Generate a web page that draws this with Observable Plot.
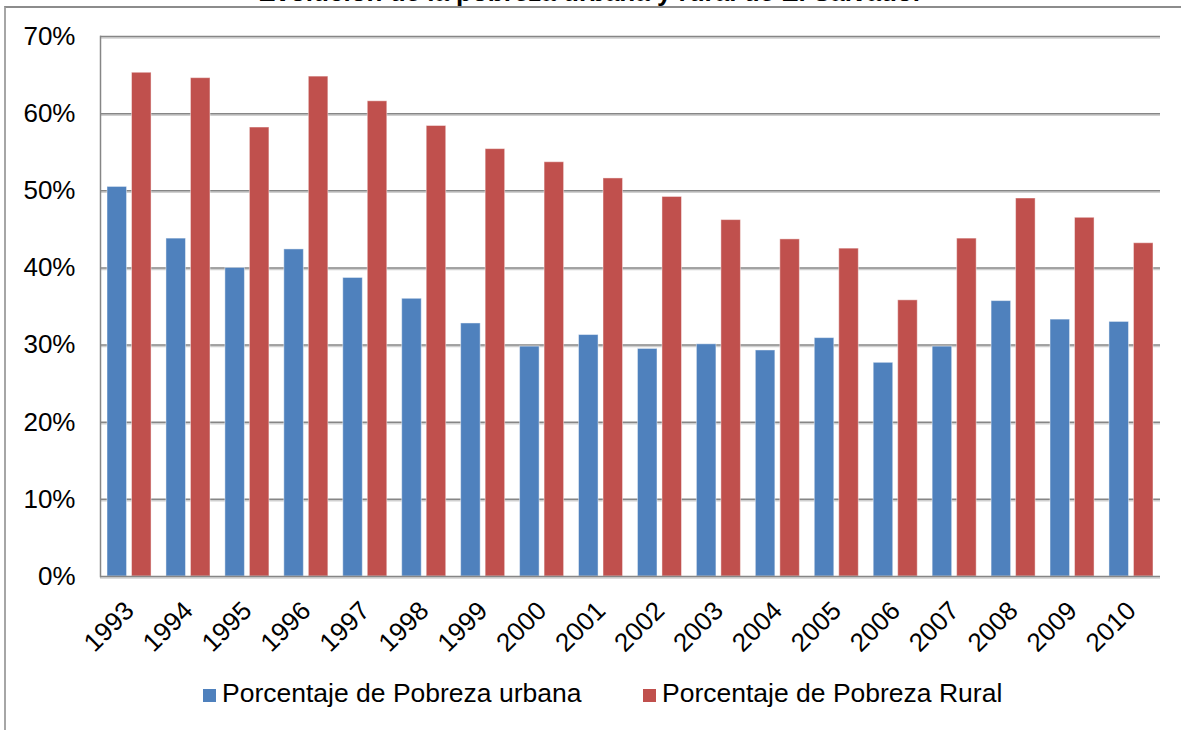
<!DOCTYPE html>
<html>
<head>
<meta charset="utf-8">
<script src="https://cdn.jsdelivr.net/npm/d3@7"></script>
<script src="https://cdn.jsdelivr.net/npm/@observablehq/plot@0.6"></script>
<style>
  html, body { margin: 0; padding: 0; background: #fff; }
  #wrap { position: relative; width: 1181px; height: 730px; overflow: hidden; font-family: "Liberation Sans", Arial, sans-serif; }
  #border { position: absolute; left: 4px; top: 6px; width: 1300px; height: 800px; border-left: 2px solid #a6a6a6; border-top: 2px solid #8c8c8c; }
  #title { position: absolute; left: 0; width: 1181px; top: -21px; text-align: center; font-weight: bold; font-size: 26px; line-height: 26px; color: #000; }
  #chart { position: absolute; left: 0; top: 0; }
  #legend { position: absolute; top: 678px; left: 0; width: 1181px; font-size: 26.5px; line-height: 30px; color: #000; }
  .item { position: absolute; display: flex; align-items: center; white-space: nowrap; }
  .sw { width: 13px; height: 13px; margin-right: 6px; margin-top: 5px; }
</style>
</head>
<body>
<div id="wrap">
  <div id="border"></div>
  <div id="title">Evolución de la pobreza urbana y rural de El Salvador</div>
  <div id="chart"></div>
  <div id="legend"></div>
</div>
<script>
const years = ["1993","1994","1995","1996","1997","1998","1999","2000","2001","2002","2003","2004","2005","2006","2007","2008","2009","2010"];
const urbana = [50.5, 43.8, 40.0, 42.4, 38.7, 36.0, 32.8, 29.8, 31.3, 29.5, 30.1, 29.3, 30.9, 27.7, 29.8, 35.7, 33.3, 33.0];
const rural  = [65.3, 64.6, 58.2, 64.8, 61.6, 58.4, 55.4, 53.7, 51.6, 49.2, 46.2, 43.7, 42.5, 35.8, 43.8, 49.0, 46.5, 43.2];
const yTicks = [0, 10, 20, 30, 40, 50, 60, 70];
const seriesNames = ["Porcentaje de Pobreza urbana", "Porcentaje de Pobreza Rural"];
const seriesColors = ["#4F81BD", "#C0504D"];

const dataU = years.map((y, i) => ({year: y, value: urbana[i]}));
const dataR = years.map((y, i) => ({year: y, value: rural[i]}));

const chart = Plot.plot({
  width: 1181,
  height: 730,
  marginLeft: 100,
  marginRight: 21,
  marginTop: 36,
  marginBottom: 154,
  style: {fontFamily: "'Liberation Sans', Arial, sans-serif", fontSize: "26px", color: "#000", background: "transparent", overflow: "visible"},
  x: {type: "band", domain: years, paddingInner: 0.253, paddingOuter: 0.119, round: false, label: null},
  y: {domain: [0, 70], label: null},
  marks: [
    Plot.ruleY(yTicks.filter(d => d > 0), {stroke: "#d0d0d0", strokeWidth: 1.5, dy: 1.5}),
    Plot.ruleY(yTicks.filter(d => d > 0), {stroke: "#868686", strokeWidth: 1.5}),
    Plot.barY(dataU, {x: "year", y: "value", fill: seriesColors[0], insetRight: 24.5, stroke: "#ffffff", strokeOpacity: 0.45, strokeWidth: 1}),
    Plot.barY(dataR, {x: "year", y: "value", fill: seriesColors[1], insetLeft: 24.5, stroke: "#ffffff", strokeOpacity: 0.45, strokeWidth: 1}),
    Plot.ruleY([0], {stroke: "#d0d0d0", strokeWidth: 1.5, dy: 1.5}),
    Plot.ruleY([0], {stroke: "#868686", strokeWidth: 1.5}),
    Plot.frame({anchor: "left", stroke: "#868686", strokeWidth: 1.5}),
    Plot.axisY({ticks: yTicks, tickFormat: d => d + "%", tickSize: 0, tickPadding: 25, fontSize: 26}),
    Plot.axisX({tickRotate: -45, tickSize: 0, tickPadding: 30, dx: 0, fontSize: 26})
  ]
});
document.getElementById("chart").appendChild(chart);

const legend = document.getElementById("legend");
const lefts = [203, 643];
seriesNames.forEach((name, i) => {
  const it = document.createElement("div");
  it.className = "item";
  it.style.left = lefts[i] + "px";
  const sw = document.createElement("div");
  sw.className = "sw";
  sw.style.background = seriesColors[i];
  const tx = document.createElement("span");
  tx.textContent = name;
  it.appendChild(sw);
  it.appendChild(tx);
  legend.appendChild(it);
});
</script>
</body>
</html>
